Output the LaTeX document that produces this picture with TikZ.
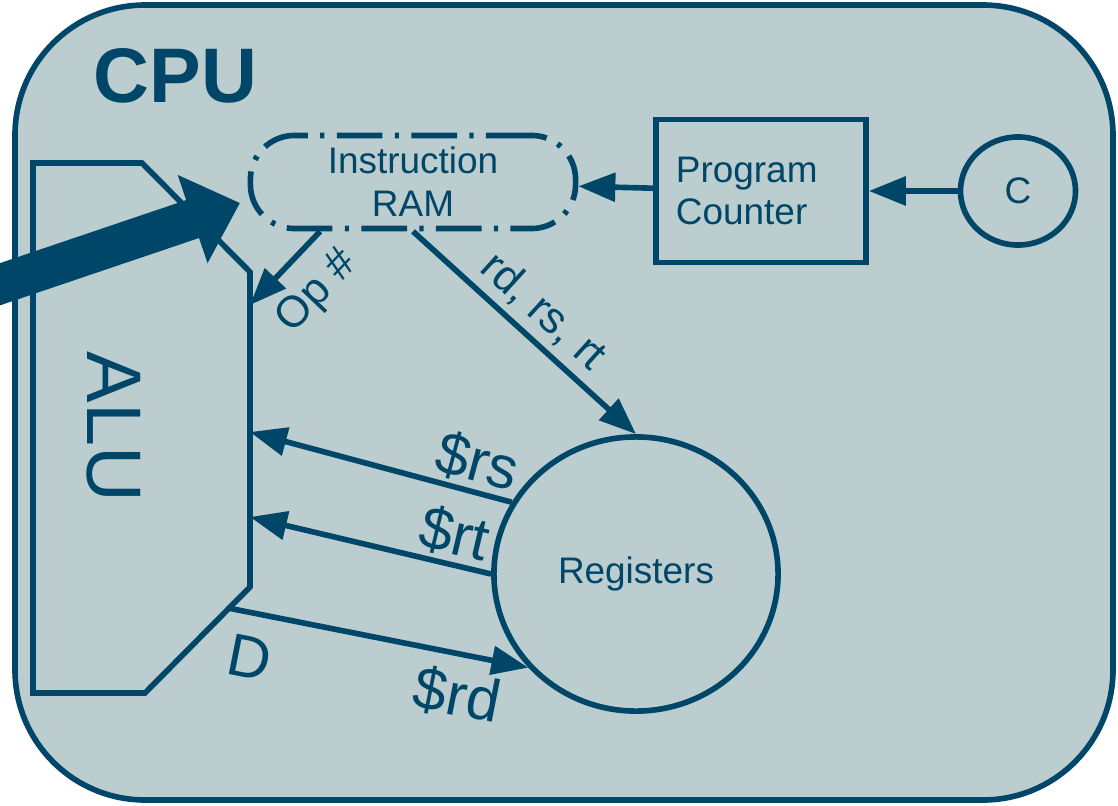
\documentclass[tikz,border=0pt]{standalone}
\usepackage{fontspec}
\setmainfont{Liberation Sans}
\usetikzlibrary{arrows.meta, positioning, shapes.geometric, calc}
\definecolor{cpufill}{RGB}{187,205,206}
\definecolor{cpublue}{RGB}{0,70,104}

\begin{document}
\begin{tikzpicture}[x=0.01cm, y=-0.01cm, color=cpublue,
  box/.style={draw, line width=1.6pt, font=\fontsize{10.5}{12.2}\selectfont},
  arr/.style={-{Triangle[length=10.5pt, width=8pt]}, line width=1.6pt},
  lbl/.style={font=\fontsize{12.5}{14}\selectfont, sloped, inner sep=1pt},
  reglbl/.style={font=\fontsize{17}{20}\selectfont, sloped, inner sep=1pt}
]
  \useasboundingbox (0,0) rectangle (1118,806);
  \draw[line width=1.6pt, fill=cpufill, rounded corners=1.3cm] (15,5) rectangle (1113,800);
  \node[anchor=base west, inner sep=0pt, font=\fontsize{22}{26}\selectfont\bfseries] (cpu) at (93,102) {CPU};

  % ALU block
  \draw[line width=1.6pt] (33,163) -- (142,163) -- (250,272) -- (250,587) -- (145,693) -- (33,693) -- cycle;
  \node[rotate=-90, font=\fontsize{22}{24}\selectfont] (alu) at (114,427) {ALU};
  \coordinate (aluop) at (250,305);
  \coordinate (alurs) at (250,432);
  \coordinate (alurt) at (250,517);
  \coordinate (alud) at (228,608);

  \node[box, dash pattern=on 13pt off 3.5pt on 1.2pt off 3.5pt, rounded corners=0.44cm,
        minimum width=3.25cm, minimum height=0.9cm, align=center] (ram) at (413,182) {Instruction\\RAM};
  \node[box, minimum width=2.1cm, minimum height=1.43cm, text width=1.7cm, align=left] (pc) at (761,191) {Program\\Counter};
  \node[box, ellipse, minimum width=1.15cm, minimum height=1.08cm, inner sep=0pt] (clk) at (1018,191) {C};
  \node[box, ellipse, minimum width=2.84cm, minimum height=2.74cm] (regs) at (636,574) {Registers};

  \draw[arr] (clk) -- (pc);
  \draw[arr] (pc) -- (ram);
  \draw[arr] (ram.208) -- node[lbl, below=4pt, pos=0.45] {Op \#} (aluop);
  \draw[arr] (ram.south) -- node[lbl, above=1pt, pos=0.5] {rd, rs, rt} (regs.north);
  \draw[arr] (regs.150) -- node[reglbl, above, pos=0.16] {\$rs} (alurs);
  \draw[arr] (regs.180) -- node[reglbl, above, pos=0.18] {\$rt} (alurt);
  \draw[arr] (alud) -- node[reglbl, below=5pt, pos=0.1] {D} node[reglbl, below=3pt, pos=0.79] {\$rd} (regs.221);

  % instruction feed
  \coordinate (feed) at (-20,291);
  \coordinate (feedtip) at (240,203);
  \draw[line width=0.4cm, -{Triangle[length=0.5cm, width=0.9cm]}] (feed) -- (feedtip);
\end{tikzpicture}
\end{document}
